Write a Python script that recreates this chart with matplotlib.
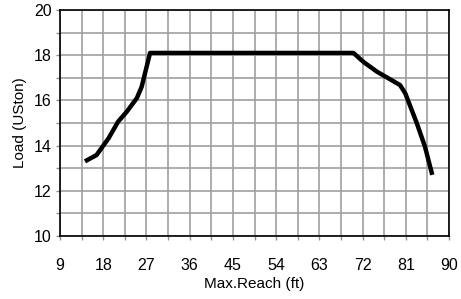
import matplotlib.pyplot as plt
import numpy as np
from matplotlib.ticker import MultipleLocator

plt.rcParams['font.family'] = ['Liberation Sans', 'DejaVu Sans']

# Load chart: max reach (ft) vs load (USton)
reach = [14.6, 16.6, 19.1, 21.1, 22.9, 25.0, 26.0, 26.7, 27.75,
         70.1, 72.2, 75.0, 79.8, 80.9, 83.3, 85.0, 86.4]
load = [13.35, 13.58, 14.32, 15.06, 15.5, 16.1, 16.6, 17.2, 18.1,
        18.1, 17.7, 17.27, 16.68, 16.31, 14.99, 13.95, 12.8]

x_ticks = [9, 18, 27, 36, 45, 54, 63, 72, 81, 90]
y_ticks = [10, 12, 14, 16, 18, 20]

fig = plt.figure(figsize=(4.61, 2.99), dpi=100)
ax = fig.add_axes([60 / 461, 1 - 236 / 299, 389 / 461, 226 / 299])

ax.plot(reach, load, color='black', linewidth=3.2, solid_joinstyle='round', zorder=3)

ax.set_xlim(9, 90)
ax.set_ylim(10, 20)
ax.set_xticks(x_ticks)
ax.set_yticks(y_ticks)
ax.xaxis.set_minor_locator(MultipleLocator(4.5))
ax.yaxis.set_minor_locator(MultipleLocator(1))

ax.grid(which='both', color='#a0a0a0', linewidth=1.2)
ax.set_axisbelow(True)

ax.tick_params(which='both', direction='out', length=3, color='#909090', width=1)
ax.tick_params(axis='x', which='major', pad=13, labelsize=11.5)
ax.tick_params(axis='y', which='major', pad=3, labelsize=11.5)

for s in ax.spines.values():
    s.set_color('black')
    s.set_linewidth(1.2)

ax.set_xlabel('Max.Reach (ft)', fontsize=11, labelpad=3)
ax.set_ylabel('Load (USton)', fontsize=11, labelpad=5)

fig.savefig('out.png', dpi=100)
